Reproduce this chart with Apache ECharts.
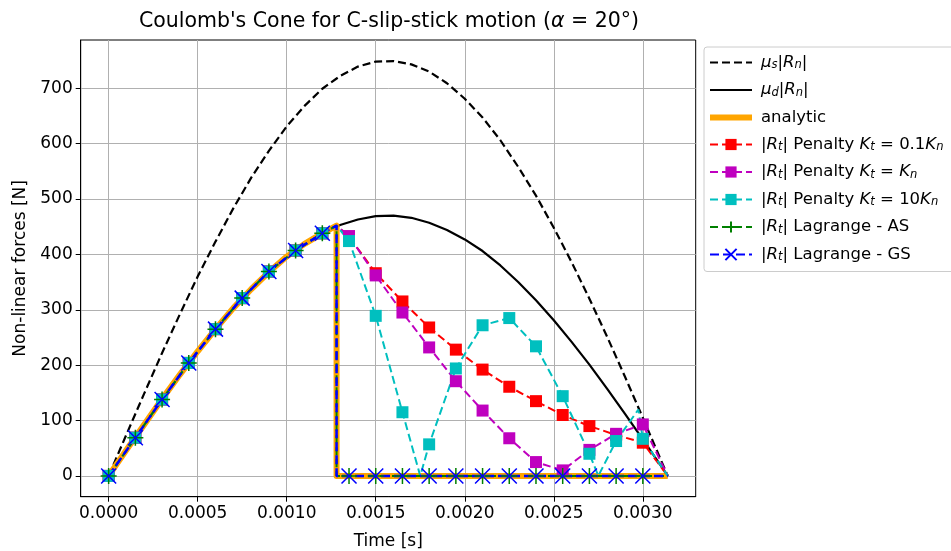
<!DOCTYPE html>
<html>
<head>
<meta charset="utf-8">
<title>Coulomb's Cone</title>
<script src="https://cdn.jsdelivr.net/npm/echarts@6/dist/echarts.min.js"></script>
<style>
  html, body { margin: 0; padding: 0; background: #fff; }
  #main { width: 951px; height: 551px; }
</style>
</head>
<body>
<div id="main"></div>
<script>
// time axis ticks and y ticks
var xTicks = [0, 0.0005, 0.001, 0.0015, 0.002, 0.0025, 0.003];
var yTicks = [0, 100, 200, 300, 400, 500, 600, 700];

// cone curves, read at 0.1 ms steps (last point = end of motion)
var curveT = [0, 0.0001, 0.0002, 0.0003, 0.0004, 0.0005, 0.0006, 0.0007, 0.0008, 0.0009, 0.001,
  0.0011, 0.0012, 0.0013, 0.0014, 0.0015, 0.0016, 0.0017, 0.0018, 0.0019, 0.002,
  0.0021, 0.0022, 0.0023, 0.0024, 0.0025, 0.0026, 0.0027, 0.0028, 0.0029, 0.003, 0.0031, 0.00314];
var muS = [0, 75, 149, 222, 292, 360, 423, 483, 538, 587, 631, 668, 699, 722, 739, 748, 749,
  743, 730, 709, 681, 647, 606, 558, 506, 448, 386, 320, 251, 179, 105, 30, 0];
var muD = [0, 47, 93, 139, 183, 225, 265, 303, 337, 368, 396, 419, 438, 453, 463, 469, 470,
  466, 457, 444, 427, 406, 380, 350, 317, 281, 242, 201, 157, 112, 66, 19, 0];

// analytic: stick phase then drop to zero at slip
var anaT = [0, 0.0001, 0.0002, 0.0003, 0.0004, 0.0005, 0.0006, 0.0007, 0.0008, 0.0009, 0.001,
  0.0011, 0.0012, 0.00128, 0.00128, 0.00314];
var anaF = [0, 47, 93, 139, 183, 225, 265, 303, 337, 368, 396, 419, 438, 452, 0, 0];

// marker times (0.15 ms steps)
var stickT = [0, 0.00015, 0.0003, 0.00045, 0.0006, 0.00075, 0.0009, 0.00105, 0.0012];
var stickF = [0, 69, 138, 204, 265, 321, 369, 407, 438];
var slipT = [0.00135, 0.0015, 0.00165, 0.0018, 0.00195, 0.0021, 0.00225, 0.0024, 0.00255,
  0.0027, 0.00285, 0.003];
var peakT = 0.00128, peakF = 452, endT = 0.00314;

var pen01 = [432, 366, 315, 268, 228, 192, 161, 135, 110, 90, 74, 60];
var pen1 = [433, 362, 295, 232, 171, 118, 68, 25, 10, 47, 76, 93];
var pen10 = [424, 289, 115, 57, 194, 272, 285, 234, 144, 40, 63, 67];
// extra unmarked points of the 10Kn curve (between markers)
var pen10ExtraT = [0.00175, 0.00275, 0.002975];
var pen10ExtraF = [0, 0, 120];
var lagSlip = [0, 0, 0, 0, 0, 0, 0, 0, 0, 0, 0, 0];

function pairs(t, f) {
  var out = [];
  for (var i = 0; i < t.length; i++) out.push([t[i], f[i]]);
  return out;
}
function bare(t, f) { return { value: [t, f], symbol: 'none' }; }

function penaltyData(slipF, extraT, extraF) {
  var d = pairs(stickT, stickF);
  d.push(bare(peakT, peakF));
  var pts = pairs(slipT, slipF);
  if (extraT) {
    for (var i = 0; i < extraT.length; i++) pts.push(bare(extraT[i], extraF[i]));
    pts.sort(function (a, b) {
      var ta = a.value ? a.value[0] : a[0], tb = b.value ? b.value[0] : b[0];
      return ta - tb;
    });
  }
  d = d.concat(pts);
  d.push(bare(endT, 0));
  return d;
}
function lagData() {
  var d = pairs(stickT, stickF);
  d.push(bare(peakT, peakF));
  d.push(bare(peakT, 0));
  d = d.concat(pairs(slipT, lagSlip));
  d.push(bare(endT, 0));
  return d;
}

var FONT = 'DejaVu Sans';
var plusPath = 'path://M1,0L1,2M0,1L2,1';
var crossPath = 'path://M0,0L2,2M2,0L0,2';

var names = {
  'mus': '{i|μ}{s|s}{n||}{i|R}{s|n}{n||}',
  'mud': '{i|μ}{s|d}{n||}{i|R}{s|n}{n||}',
  'analytic': '{n|analytic}',
  'p01': '{n||}{i|R}{s|t}{n|| Penalty }{i|K}{s|t}{n| = 0.1}{i|K}{s|n}',
  'p1': '{n||}{i|R}{s|t}{n|| Penalty }{i|K}{s|t}{n| = }{i|K}{s|n}',
  'p10': '{n||}{i|R}{s|t}{n|| Penalty }{i|K}{s|t}{n| = 10}{i|K}{s|n}',
  'lagAS': '{n||}{i|R}{s|t}{n|| Lagrange - AS}',
  'lagGS': '{n||}{i|R}{s|t}{n|| Lagrange - GS}'
};

var dash = [8, 4];
var FS = 17;
var noMark = { opacity: 0 };

var chart = echarts.init(document.getElementById('main'), null, { renderer: 'canvas' });
chart.setOption({
  animation: false,
  backgroundColor: '#fff',
  textStyle: { fontFamily: FONT },
  title: {
    text: "Coulomb's Cone for C-slip-stick motion ({i|α} = 20°)",
    left: 384, top: 6, textAlign: 'center',
    textStyle: {
      fontFamily: FONT, fontSize: 20.5, fontWeight: 'normal', color: '#000',
      rich: { i: { fontFamily: FONT, fontSize: 20.5, fontStyle: 'italic', color: '#000' } }
    }
  },
  grid: {
    left: 80.7, top: 40, right: 255.3, bottom: 54.3,
    outerBoundsMode: 'none', containLabel: false,
    show: true, borderColor: '#000', borderWidth: 1, backgroundColor: 'transparent'
  },
  legend: {
    orient: 'vertical', left: 704, top: 47,
    padding: [7, 30, 8, 3],
    itemWidth: 42, itemHeight: 14, itemGap: 10,
    backgroundColor: '#fff', borderColor: '#cccccc', borderWidth: 1, borderRadius: 3,
    formatter: function (n) { return names[n]; },
    textStyle: {
      fontFamily: FONT, fontSize: 16.5, color: '#000', padding: [0, 0, 0, 4],
      rich: {
        n: { fontFamily: FONT, fontSize: 16.5, lineHeight: 18, color: '#000' },
        i: { fontFamily: FONT, fontSize: 16.5, lineHeight: 18, fontStyle: 'italic', color: '#000' },
        s: { fontFamily: FONT, fontSize: 11.5, lineHeight: 11, fontStyle: 'italic', verticalAlign: 'bottom', color: '#000' }
      }
    },
    data: [
      { name: 'mus', itemStyle: noMark, lineStyle: { width: 2.2, opacity: 1 } },
      { name: 'mud', itemStyle: noMark, lineStyle: { width: 2.2, opacity: 1 } },
      { name: 'analytic', itemStyle: noMark, lineStyle: { width: 6, opacity: 1 } },
      { name: 'p01' }, { name: 'p1' }, { name: 'p10' },
      { name: 'lagAS' }, { name: 'lagGS' }
    ]
  },
  xAxis: {
    type: 'value', min: -0.000157, max: 0.003297,
    name: 'Time [s]', nameLocation: 'middle', nameGap: 36,
    nameTextStyle: { fontFamily: FONT, fontSize: FS, color: '#000' },
    axisLine: { show: true, onZero: false, lineStyle: { color: '#000', width: 1 } },
    axisTick: { show: true, inside: false, length: 5, customValues: xTicks, lineStyle: { color: '#000' } },
    axisLabel: {
      customValues: xTicks, margin: 8, fontFamily: FONT, fontSize: FS, color: '#000',
      formatter: function (v) { return v.toFixed(4); }
    },
    splitLine: { show: true, lineStyle: { color: '#b0b0b0', width: 1 } }
  },
  yAxis: {
    type: 'value', min: -37.5, max: 787,
    name: 'Non-linear forces [N]', nameLocation: 'middle', nameGap: 52,
    nameTextStyle: { fontFamily: FONT, fontSize: FS, color: '#000' },
    axisLine: { show: true, onZero: false, lineStyle: { color: '#000', width: 1 } },
    axisTick: { show: true, inside: false, length: 5, customValues: yTicks, lineStyle: { color: '#000' } },
    axisLabel: { customValues: yTicks, margin: 8, fontFamily: FONT, fontSize: FS, color: '#000' },
    splitLine: { show: true, lineStyle: { color: '#b0b0b0', width: 1 } }
  },
  series: [
    {
      name: 'mus', type: 'line', symbol: 'none', data: pairs(curveT, muS),
      lineStyle: { color: '#000', width: 2.2, type: dash }, itemStyle: { color: '#000' }
    },
    {
      name: 'mud', type: 'line', symbol: 'none', data: pairs(curveT, muD),
      lineStyle: { color: '#000', width: 2.2 }, itemStyle: { color: '#000' }
    },
    {
      name: 'analytic', type: 'line', symbol: 'none', data: pairs(anaT, anaF),
      lineStyle: { color: '#ffa500', width: 6, join: 'round' }, itemStyle: { color: '#ffa500' }
    },
    {
      name: 'p01', type: 'line', symbol: 'rect', symbolSize: 12, data: penaltyData(pen01),
      lineStyle: { color: '#ff0000', width: 2, type: dash }, itemStyle: { color: '#ff0000' }
    },
    {
      name: 'p1', type: 'line', symbol: 'rect', symbolSize: 12, data: penaltyData(pen1),
      lineStyle: { color: '#bf00bf', width: 2, type: dash }, itemStyle: { color: '#bf00bf' }
    },
    {
      name: 'p10', type: 'line', symbol: 'rect', symbolSize: 12,
      data: penaltyData(pen10, pen10ExtraT, pen10ExtraF),
      lineStyle: { color: '#00bfbf', width: 2, type: dash }, itemStyle: { color: '#00bfbf' }
    },
    {
      name: 'lagAS', type: 'line', symbol: plusPath, symbolSize: 16, data: lagData(),
      lineStyle: { color: '#008000', width: 2, type: dash },
      itemStyle: { color: '#008000', borderColor: '#008000', borderWidth: 1.5 }
    },
    {
      name: 'lagGS', type: 'line', symbol: crossPath, symbolSize: 15, data: lagData(),
      lineStyle: { color: '#0000ff', width: 2.5, type: [9, 4] },
      itemStyle: { color: '#0000ff', borderColor: '#0000ff', borderWidth: 1.5 }
    }
  ]
});
</script>
</body>
</html>
